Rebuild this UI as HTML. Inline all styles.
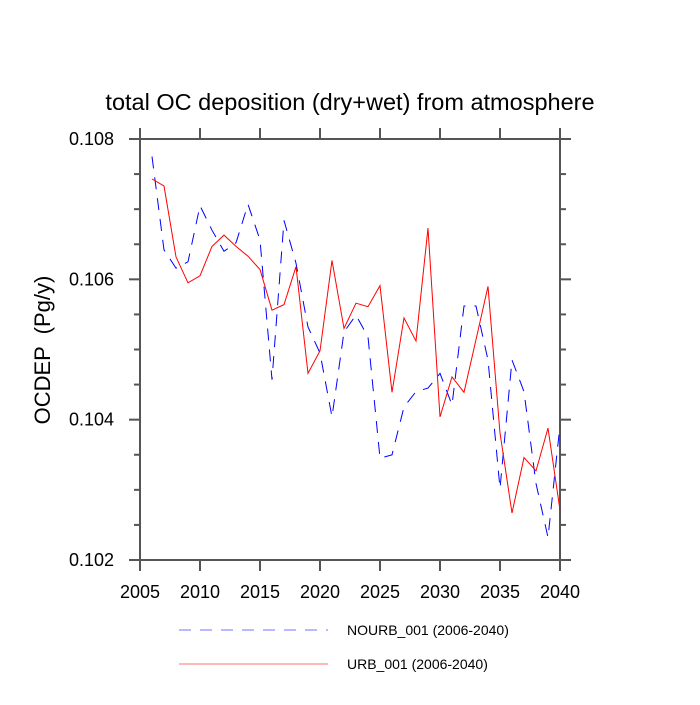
<!DOCTYPE html>
<html><head><meta charset="utf-8"><style>
body{margin:0;background:#fff;}
svg text{font-family:"Liberation Sans",sans-serif;fill:#000;}
</style></head><body>
<svg id="chart" width="700" height="700" viewBox="0 0 700 700">
<rect width="700" height="700" fill="#fff"/>
<text x="350" y="110" font-size="23.5" text-anchor="middle">total OC deposition (dry+wet) from atmosphere</text>
<text transform="translate(50,350) rotate(-90)" font-size="22" text-anchor="middle" xml:space="preserve">OCDEP  (Pg/y)</text>
<g id="axes"></g>
<g id="series"></g>
<g>
<line x1="179" y1="630" x2="328" y2="630" stroke="#0000ff" stroke-opacity="0.55" stroke-dasharray="12,9"/>
<text x="347" y="635" font-size="14">NOURB_001 (2006-2040)</text>
<line x1="179" y1="664" x2="328" y2="664" stroke="#ff0000" stroke-opacity="0.55"/>
<text x="347" y="669" font-size="14">URB_001 (2006-2040)</text>
</g>
</svg>
<script>
const years = [2006,2007,2008,2009,2010,2011,2012,2013,2014,2015,2016,2017,2018,2019,2020,2021,2022,2023,2024,2025,2026,2027,2028,2029,2030,2031,2032,2033,2034,2035,2036,2037,2038,2039,2040];
const nourb = [0.10775,0.10642,0.10616,0.10625,0.10705,0.1067,0.1064,0.10652,0.10707,0.10656,0.10457,0.10684,0.10623,0.10532,0.10495,0.10404,0.10525,0.10549,0.10518,0.10345,0.1035,0.10418,0.1044,0.10445,0.10466,0.10421,0.10562,0.10562,0.10485,0.10302,0.10485,0.1044,0.10309,0.10232,0.10392];
const urb = [0.10743,0.10733,0.10632,0.10595,0.10605,0.10647,0.10663,0.10647,0.10633,0.10614,0.10556,0.10564,0.10618,0.10466,0.10498,0.10627,0.1053,0.10566,0.10561,0.10591,0.10439,0.10545,0.10512,0.10673,0.10404,0.10461,0.10439,0.10514,0.1059,0.10381,0.10267,0.10346,0.10327,0.10388,0.10271];
const xTicks = [2005,2010,2015,2020,2025,2030,2035,2040];
const yTicks = [0.102,0.104,0.106,0.108];
const L=140,R=560,T=139,B=560,x0=2005,x1=2040,y0=0.102,y1=0.108;
function sx(v){return L+(v-x0)/(x1-x0)*(R-L);}
function sy(v){return B-(v-y0)/(y1-y0)*(B-T);}
const NS="http://www.w3.org/2000/svg";
const axes=document.getElementById('axes'),series=document.getElementById('series');
function mk(tag,attrs,parent){const e=document.createElementNS(NS,tag);for(const k in attrs)e.setAttribute(k,attrs[k]);parent.appendChild(e);return e;}
const frame=mk('rect',{x:L,y:T,width:R-L,height:B-T,fill:'none',stroke:'#555','stroke-width':2},axes);


xTicks.forEach(t=>{
  const x=sx(t);
  const a=mk('line',{x1:x,y1:B,x2:x,y2:B+11,stroke:'#555','stroke-width':2},axes);
  
  
  const b=mk('line',{x1:x,y1:T,x2:x,y2:T-11,stroke:'#555','stroke-width':2},axes);
  
  
  const lb=mk('text',{x:x,y:B+38,'font-size':18,'text-anchor':'middle'},axes);
  lb.textContent=t;
  
  
});
for(let v=y0;v<=y1+1e-9;v+=0.0005){
  const major=Math.abs(Math.round(v*1000/2)*0.002-v)<1e-7;
  const y=sy(v),len=major?11:6;
  const a=mk('line',{x1:L,y1:y,x2:L-len,y2:y,stroke:'#555','stroke-width':2},axes);
  
  
  const b=mk('line',{x1:R,y1:y,x2:R+len,y2:y,stroke:'#555','stroke-width':2},axes);
  
  
}
yTicks.forEach(t=>{
  const lb=mk('text',{x:L-26,y:sy(t)+6,'font-size':18,'text-anchor':'end'},axes);
  lb.textContent=t.toFixed(3);
  
  
});
function pts(arr){return arr.map((v,i)=>sx(years[i]).toFixed(1)+','+sy(v).toFixed(1)).join(' ');}
const pb=mk('polyline',{points:pts(nourb),fill:'none',stroke:'#0000ff','stroke-width':1,'stroke-dasharray':'12,9'},series);


const pr=mk('polyline',{points:pts(urb),fill:'none',stroke:'#ff0000','stroke-width':1},series);


</script>
</body></html>
